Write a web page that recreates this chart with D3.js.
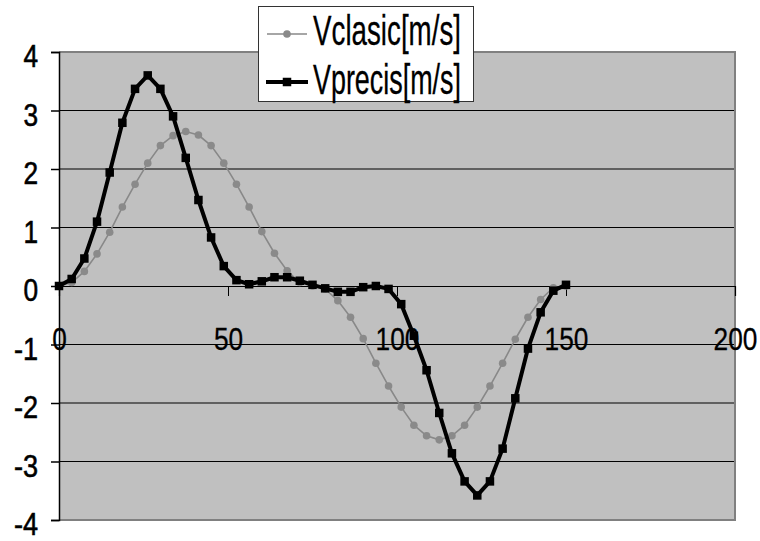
<!DOCTYPE html>
<html>
<head>
<meta charset="utf-8">
<script src="https://cdn.jsdelivr.net/npm/d3@7/dist/d3.min.js"></script>
<style>
  html, body { margin: 0; padding: 0; background: #ffffff; }
  svg { display: block; }
  text { font-family: "Liberation Sans Narrow", "Arial Narrow", "Liberation Sans", Arial, sans-serif; fill: #000; }
</style>
</head>
<body>
<svg id="chart" width="760" height="541"></svg>
<script>
// ---- data ----
const xValues = [0, 3.75, 7.5, 11.25, 15, 18.75, 22.5, 26.25, 30, 33.75, 37.5, 41.25, 45, 48.75,
  52.5, 56.25, 60, 63.75, 67.5, 71.25, 75, 78.75, 82.5, 86.25, 90, 93.75, 97.5, 101.25, 105,
  108.75, 112.5, 116.25, 120, 123.75, 127.5, 131.25, 135, 138.75, 142.5, 146.25, 150];

const vClasic = [0, 0.06, 0.25, 0.55, 0.92, 1.35, 1.74, 2.1, 2.4, 2.57, 2.64, 2.58, 2.4, 2.1,
  1.74, 1.35, 0.93, 0.56, 0.26, 0.06, 0, -0.05, -0.25, -0.535, -0.9, -1.32, -1.71, -2.07, -2.38,
  -2.56, -2.63, -2.56, -2.38, -2.07, -1.71, -1.32, -0.91, -0.535, -0.23, -0.03, 0];

const vPrecis = [0, 0.12, 0.47, 1.1, 1.94, 2.79, 3.37, 3.6, 3.37, 2.9, 2.19, 1.47, 0.83, 0.34,
  0.1, 0.03, 0.08, 0.15, 0.15, 0.09, 0.02, -0.04, -0.1, -0.1, -0.02, 0.0, -0.05, -0.31, -0.85,
  -1.44, -2.17, -2.86, -3.34, -3.58, -3.34, -2.78, -1.92, -1.07, -0.45, -0.08, 0.02];

const seriesNames = ["Vclasic[m/s]", "Vprecis[m/s]"];
const xTicks = [0, 50, 100, 150, 200];
const yTicks = [-4, -3, -2, -1, 0, 1, 2, 3, 4];

// ---- layout ----
const svg = d3.select("#chart");
const pLeft = 59, pRight = 735, pTop = 52, pBottom = 520;
const x = d3.scaleLinear().domain([0, 200]).range([pLeft, pRight]);
const y = d3.scaleLinear().domain([-4, 4]).range([pBottom, pTop]);

// condensed label width (digits ~14.6px, minus ~9.5px)
const labelWidth = s => s.replace("-", "").length * 14.6 + (s.startsWith("-") ? 9.5 : 0);

// plot background
svg.append("rect")
  .attr("x", pLeft).attr("y", pTop)
  .attr("width", pRight - pLeft).attr("height", pBottom - pTop)
  .attr("fill", "#c0c0c0");

// gridlines
svg.append("g")
  .selectAll("line")
  .data(yTicks.filter(t => t !== 4 && t !== -4 && t !== 0))
  .join("line")
  .attr("x1", pLeft).attr("x2", pRight)
  .attr("y1", d => y(d)).attr("y2", d => y(d))
  .attr("stroke", "#000").attr("stroke-width", 1);

// plot border (top, right, bottom) gray
svg.append("path")
  .attr("d", `M${pLeft},${pTop}H${pRight}V${pBottom}H${pLeft}`)
  .attr("fill", "none").attr("stroke", "#808080").attr("stroke-width", 2);

// y axis
const yFmt = d => d < 0 ? "-" + Math.abs(d) : String(d);
const yAxis = d3.axisLeft(y).tickValues(yTicks).tickSize(8).tickPadding(13).tickFormat(yFmt);
const gy = svg.append("g").attr("transform", `translate(${pLeft},0)`).call(yAxis);
gy.attr("font-family", null).attr("font-size", null);
gy.select(".domain").attr("stroke", "#000").attr("stroke-width", 1.5);
gy.selectAll(".tick line").attr("stroke", "#000").attr("stroke-width", 1.5);
gy.selectAll(".tick text")
  .attr("font-size", 32)
  .attr("dy", "0.46em")
  .attr("fill", "#000")
  .attr("stroke", "#000").attr("stroke-width", 0.6)
  .attr("textLength", d => labelWidth(yFmt(d)))
  .attr("lengthAdjust", "spacingAndGlyphs");

// x axis at y=0
const xFmt = d3.format("d");
const xAxis = d3.axisBottom(x).tickValues(xTicks).tickSize(10).tickPadding(0).tickFormat(xFmt);
const gx = svg.append("g").attr("transform", `translate(0,${y(0)})`).call(xAxis);
gx.attr("font-family", null).attr("font-size", null);
gx.select(".domain").attr("stroke", "#000").attr("stroke-width", 1.2);
gx.selectAll(".tick line").attr("stroke", "#000").attr("stroke-width", 1);
gx.selectAll(".tick text")
  .attr("font-size", 32)
  .attr("y", 0).attr("dy", 64)
  .attr("fill", "#000")
  .attr("stroke", "#000").attr("stroke-width", 0.3)
  .attr("textLength", d => labelWidth(xFmt(d)))
  .attr("lengthAdjust", "spacingAndGlyphs");

// series
const pts = (vals) => xValues.map((xv, i) => [xv, vals[i]]);
const line = d3.line().x(d => x(d[0])).y(d => y(d[1]));

// Vclasic: gray thin line with circles
svg.append("path")
  .datum(pts(vClasic))
  .attr("d", line)
  .attr("fill", "none").attr("stroke", "#888888").attr("stroke-width", 1.6);
svg.append("g")
  .selectAll("circle")
  .data(pts(vClasic))
  .join("circle")
  .attr("cx", d => x(d[0])).attr("cy", d => y(d[1]))
  .attr("r", 3.8).attr("fill", "#8a8a8a");

// Vprecis: thick black line with squares
svg.append("path")
  .datum(pts(vPrecis))
  .attr("d", line)
  .attr("fill", "none").attr("stroke", "#000").attr("stroke-width", 4)
  .attr("stroke-linejoin", "round");
const sq = 8.5;
svg.append("g")
  .selectAll("rect")
  .data(pts(vPrecis))
  .join("rect")
  .attr("x", d => x(d[0]) - sq / 2).attr("y", d => y(d[1]) - sq / 2)
  .attr("width", sq).attr("height", sq).attr("fill", "#000");

// legend
const lg = svg.append("g");
lg.append("rect")
  .attr("x", 258.5).attr("y", 6.5).attr("width", 215).attr("height", 95)
  .attr("fill", "#fff").attr("stroke", "#333").attr("stroke-width", 1);
// row 1
lg.append("line").attr("x1", 267).attr("x2", 307).attr("y1", 34).attr("y2", 34)
  .attr("stroke", "#888888").attr("stroke-width", 1.6);
lg.append("circle").attr("cx", 287).attr("cy", 34).attr("r", 3.8).attr("fill", "#8a8a8a");
lg.append("text").attr("x", 313).attr("y", 45).attr("font-size", 42)
  .attr("stroke", "#000").attr("stroke-width", 0.3)
  .attr("textLength", 148).attr("lengthAdjust", "spacingAndGlyphs").text(seriesNames[0]);
// row 2
lg.append("line").attr("x1", 266).attr("x2", 308).attr("y1", 82).attr("y2", 82)
  .attr("stroke", "#000").attr("stroke-width", 4);
lg.append("rect").attr("x", 287 - sq / 2).attr("y", 82 - sq / 2).attr("width", sq).attr("height", sq)
  .attr("fill", "#000");
lg.append("text").attr("x", 313).attr("y", 94).attr("font-size", 42)
  .attr("stroke", "#000").attr("stroke-width", 0.3)
  .attr("textLength", 148).attr("lengthAdjust", "spacingAndGlyphs").text(seriesNames[1]);
</script>
</body>
</html>
